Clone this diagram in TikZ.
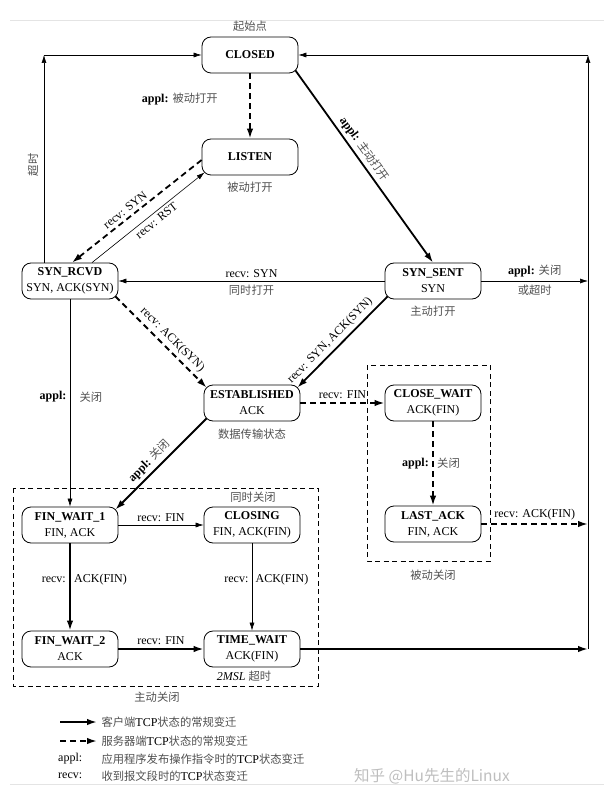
\documentclass[tikz,border=0pt]{standalone}
\usepackage{fontspec}
\setmainfont{Liberation Serif}
\newfontfamily\cjk{Noto Sans CJK SC}
\usepackage{tikz}
\usetikzlibrary{arrows.meta,calc}
\definecolor{cNote}{RGB}{80,80,80}
\definecolor{cRule}{RGB}{228,228,228}
\definecolor{cMark}{RGB}{190,190,190}
\newcommand{\zh}[1]{{\cjk\fontsize{11.3}{13}\selectfont\color{cNote}#1}}

\begin{document}
\begin{tikzpicture}[x=1pt, y=-1pt, font=\fontsize{12}{16}\selectfont,
  st/.style={draw, line width=0.8pt, rounded corners=9pt, minimum width=96pt,
    minimum height=36pt, inner sep=1pt, align=center},
  oth/.style={line width=0.6pt, -{Latex[length=8pt,width=5pt]}},
  cli/.style={line width=1.8pt, -{Latex[length=10pt,width=6.5pt]}},
  srv/.style={cli, dash pattern=on 6pt off 4pt},
  grp/.style={line width=0.7pt, dash pattern=on 5pt off 3.5pt}]
\useasboundingbox (0,0) rectangle (604,799);
% page rules
\draw[cRule, line width=0.8pt] (10,20) -- (604,20);
\draw[cRule, line width=0.8pt] (10,784) -- (604,784);
% states
\node[st] (closed)    at (250,55)  {\textbf{CLOSED}};
\node[st] (listen)    at (250,157) {\textbf{LISTEN}};
\node[st] (synrcvd)   at (70,281)  {\textbf{SYN\_RCVD}\\SYN, ACK(SYN)};
\node[st] (synsent)   at (433,281) {\textbf{SYN\_SENT}\\SYN};
\node[st] (estab)     at (252,403) {\textbf{ESTABLISHED}\\ACK};
\node[st] (closewait) at (433,403) {\textbf{CLOSE\_WAIT}\\ACK(FIN)};
\node[st] (lastack)   at (433,524) {\textbf{LAST\_ACK}\\FIN, ACK};
\node[st] (finwait1)  at (70,525)  {\textbf{FIN\_WAIT\_1}\\FIN, ACK};
\node[st] (closing)   at (252,525) {\textbf{CLOSING}\\FIN, ACK(FIN)};
\node[st] (finwait2)  at (70,649)  {\textbf{FIN\_WAIT\_2}\\ACK};
\node[st] (timewait)  at (252,649) {\textbf{TIME\_WAIT}\\ACK(FIN)};
% notes
\node (startnote) at (250,26)  {\zh{起始点}};
\node (listnote)  at (250,187) {\zh{被动打开}};
\node (sentnote)  at (433,311) {\zh{主动打开}};
\node (estnote)   at (252,434) {\zh{数据传输状态}};
\node (simclose)  at (253,497) {\zh{同时关闭}};
\node (twnote)    at (244,676) {\textit{2MSL} \zh{超时}};
\node (actclose)  at (157,697) {\zh{主动关闭}};
\node (pasclose)  at (433,575) {\zh{被动关闭}};
\node[rotate=90] (tonote) at (33,165) {\zh{超时}};
% groups
\draw[grp] (13,488) rectangle (318,686);
\draw[grp] (367,365) rectangle (490,561);
% return lines to CLOSED
\coordinate (lline) at (44,55);
\coordinate (rline) at (588,55);
\draw[oth] (synrcvd.north -| lline) -- (lline);
\draw[oth] (lline) -- (closed.west);
\draw[oth] (timewait.east -| rline) -- (rline);
\draw[oth] (rline) -- (closed.east);
% open
\draw[srv] (closed) -- (listen) node[pos=0.4, left=28pt] {\textbf{appl:} \zh{被动打开}};
\draw[cli] ($(closed.south east)+(-3,-3)$) -- (synsent.north)
  node[pos=0.44, sloped, above] {\textbf{appl:} \zh{主动打开}};
\draw[srv] ($(listen.west)+(0,3)$) -- ($(synrcvd.north)+(2,0)$)
  node[pos=0.55, sloped, above] {recv: SYN};
\draw[oth] ($(synrcvd.north)+(22,0)$) -- ($(listen.south west)+(3,-3)$)
  node[pos=0.53, sloped, below] {recv: RST};
\draw[oth] (synsent) -- (synrcvd) node[midway, above] {recv: SYN}
  node[midway, below] {\zh{同时打开}};
\draw[oth] (synsent.east) -- (synsent.east -| rline)
  node[midway, above] {\textbf{appl:} \zh{关闭}} node[midway, below] {\zh{或超时}};
\draw[srv] ($(synrcvd.south east)+(-3,-3)$) -- ($(estab.north west)+(3,3)$)
  node[pos=0.55, sloped, above] {recv: ACK(SYN)};
\draw[cli] ($(synsent.south west)+(3,-3)$) -- ($(estab.north east)+(-3,3)$)
  node[pos=0.56, sloped, above] {recv: SYN, ACK(SYN)};
% passive close
\draw[srv] (estab) -- (closewait) node[midway, above] {recv: FIN};
\draw[srv] (closewait) -- (lastack) node[midway, left] {\textbf{appl:}}
  node[midway, right] {\zh{关闭}};
\draw[srv] (lastack.east) -- (lastack.east -| rline) node[midway, above] {recv: ACK(FIN)};
% active close
\draw[cli] ($(estab.south west)+(3,-3)$) -- ($(finwait1.north east)+(-3,3)$)
  node[pos=0.55, sloped, above] {\textbf{appl:} \zh{关闭}};
\draw[oth] (synrcvd) -- (finwait1) node[pos=0.47, left] {\textbf{appl:}}
  node[pos=0.47, right=6pt] {\zh{关闭}};
\draw[oth] (finwait1) -- (closing) node[midway, above] {recv: FIN};
\draw[cli] (finwait1) -- (finwait2) node[pos=0.42, left] {recv:}
  node[pos=0.42, right] {ACK(FIN)};
\draw[oth] (closing) -- (timewait) node[pos=0.42, left] {recv:}
  node[pos=0.42, right] {ACK(FIN)};
\draw[cli] (finwait2) -- (timewait) node[midway, above] {recv: FIN};
\draw[cli] (timewait.east) -- (timewait.east -| rline);
% legend
\coordinate (lgcs) at (60,722); \coordinate (lgce) at (97,722);
\coordinate (lgss) at (60,741); \coordinate (lgse) at (97,741);
\draw[cli] (lgcs) -- (lgce);
\draw[srv] (lgss) -- (lgse);
\node[anchor=west] (lgcli) at (98,722) {\zh{客户端}TCP\zh{状态的常规变迁}};
\node[anchor=west] (lgsrv) at (98,741) {\zh{服务器端}TCP\zh{状态的常规变迁}};
\node[anchor=west, inner sep=0pt] (lgappl) at (58,759) {appl:};
\node[anchor=west] (lgappt) at (98,759) {\zh{应用程序发布操作指令时的}TCP\zh{状态变迁}};
\node[anchor=west, inner sep=0pt] (lgrecv) at (58,776) {recv:};
\node[anchor=west] (lgrect) at (98,776) {\zh{收到报文段时的}TCP\zh{状态变迁}};
\node[text=cMark, font=\cjk\fontsize{15.5}{18}\selectfont] (mark) at (432,776) {知乎 @Hu先生的Linux};
\end{tikzpicture}
\end{document}
